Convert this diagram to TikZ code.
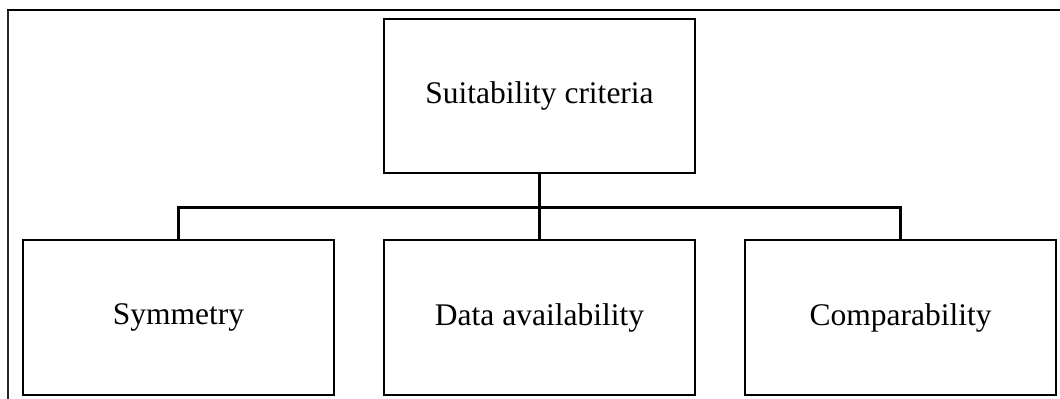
\documentclass[tikz,border=0pt]{standalone}
\usepackage{fontspec}
\setmainfont{Liberation Serif}
\begin{document}
\begin{tikzpicture}[x=1bp,y=-1bp,
  box/.style={draw=black, line width=2.2bp, minimum width=311bp, minimum height=155bp,
    inner sep=0pt, font=\fontsize{31.5bp}{36bp}\selectfont},
  link/.style={draw=black, line width=2.2bp}]
  \useasboundingbox (0,0) rectangle (1060,398);
  \clip (0,0) rectangle (1060,398);
  % outer frame
  \draw[line width=1.3bp, black!85] (8,400) -- (8,10);
  \draw[line width=2bp] (7.4,10) -- (1065,10);
  % boxes
  \node[box, minimum height=154bp] (top) at (539.5,96) {Suitability criteria};
  \node[box] (sym)  at (178.5,317.5) {Symmetry};
  \node[box] (data) at (539.5,317.5) {Data availability};
  \node[box] (comp) at (900.5,317.5) {Comparability};
  % connectors
  \coordinate (bus) at (539.5,207.5);
  \draw[link] (top.south) -- (bus);
  \draw[link] (bus) -- (data.north);
  \draw[link] (sym.north) -- (sym.north |- bus) -- (comp.north |- bus) -- (comp.north);
\end{tikzpicture}
\end{document}
